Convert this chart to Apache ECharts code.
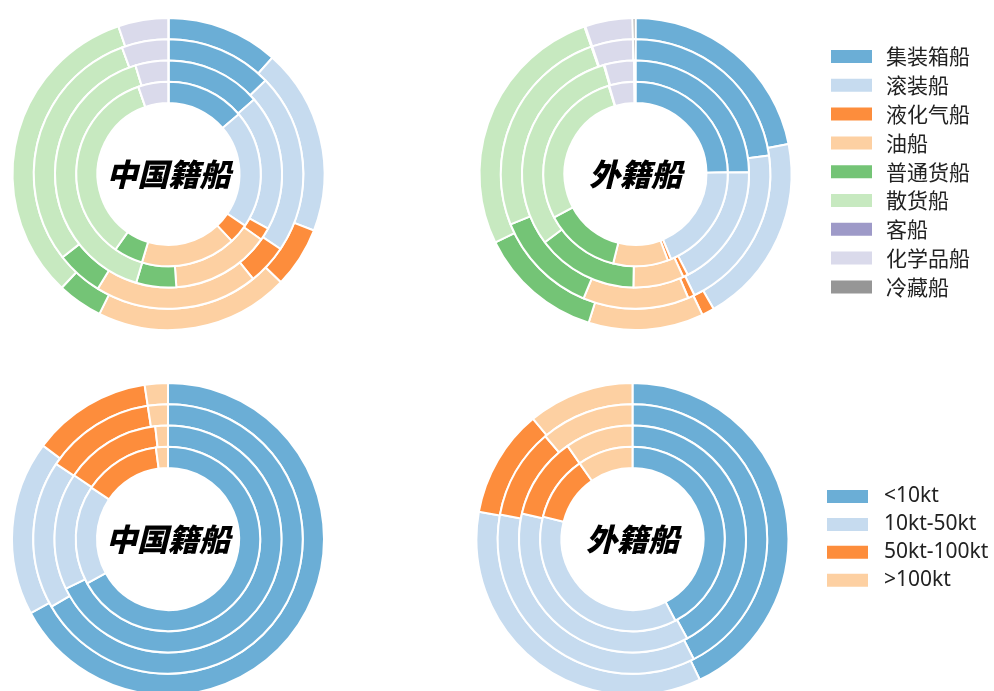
<!DOCTYPE html>
<html>
<head>
<meta charset="utf-8">
<script src="https://cdn.jsdelivr.net/npm/echarts@6/dist/echarts.min.js"></script>
<style>
  html, body { margin: 0; padding: 0; background: #fff; }
  #chart { width: 994px; height: 691px; }
</style>
</head>
<body>
<div id="chart"></div>
<script>
// Pollutant rings, outermost first
const ringNames = ['CO2', 'SOx', 'NOx', 'PM'];

// Ship types (share of emissions, %)
const shipTypes = ['集装箱船', '滚装船', '液化气船', '油船', '普通货船', '散货船', '客船', '化学品船', '冷藏船'];
const cnTypeCO2 = [11.6, 19.3, 6.3, 20.1, 4.7, 32.8, 0, 5.2, 0];
const cnTypeSOx = [12.8, 21.6, 4.8, 19.6, 5.6, 30.0, 0, 5.6, 0];
const cnTypeNOx = [13.6, 19.4, 1.8, 14.1, 5.7, 40.7, 0, 4.7, 0];
const cnTypePM  = [13.8, 20.7, 3.5, 16.7, 5.1, 35.0, 0, 5.3, 0];
const fgTypeCO2 = [21.9, 19.7, 1.3, 11.9, 12.9, 26.9, 0.1, 4.9, 0.3];
const fgTypeSOx = [22.8, 20.0, 0.8, 12.7, 12.6, 25.8, 0.1, 4.9, 0.3];
const fgTypeNOx = [24.7, 17.6, 0.7, 7.2, 14.4, 30.7, 0.1, 4.2, 0.2];
const fgTypePM  = [24.7, 19.0, 0.6, 9.6, 13.3, 28.1, 0.1, 4.4, 0.2];

// Tonnage classes (share of emissions, %)
const tonnageClasses = ['<10kt', '10kt-50kt', '50kt-100kt', '>100kt'];
const cnTonCO2 = [67.2, 18.1, 12.4, 2.4];
const cnTonSOx = [66.7, 17.8, 13.2, 2.4];
const cnTonNOx = [67.8, 16.7, 13.7, 1.8];
const cnTonPM  = [67.1, 17.4, 13.5, 2.1];
const fgTonCO2 = [42.9, 34.9, 11.2, 11.0];
const fgTonSOx = [42.5, 35.4, 10.9, 11.2];
const fgTonNOx = [42.0, 36.6, 11.7, 9.7];
const fgTonPM  = [42.3, 36.6, 11.4, 9.7];

const panelTitles = ['中国籍船', '外籍船', '中国籍船', '外籍船'];

// Colours per category
const typeColors = ['#6baed6', '#c6dbef', '#fd8d3c', '#fdd0a2', '#74c476', '#c7e9c0', '#9e9ac8', '#dadaeb', '#969696'];
const tonColors = ['#6baed6', '#c6dbef', '#fd8d3c', '#fdd0a2'];

// Panel layout: centres and ring radii (px)
const panels = [
  { cx: 168.5, cy: 174, names: shipTypes, colors: typeColors, rings: [cnTypeCO2, cnTypeSOx, cnTypeNOx, cnTypePM] },
  { cx: 635.5, cy: 174, names: shipTypes, colors: typeColors, rings: [fgTypeCO2, fgTypeSOx, fgTypeNOx, fgTypePM] },
  { cx: 168,   cy: 539, names: tonnageClasses, colors: tonColors, rings: [cnTonCO2, cnTonSOx, cnTonNOx, cnTonPM] },
  { cx: 632.5, cy: 539, names: tonnageClasses, colors: tonColors, rings: [fgTonCO2, fgTonSOx, fgTonNOx, fgTonPM] }
];
const innerR = 71, outerR = 156;
const ringW = (outerR - innerR) / ringNames.length;

const series = [];
const graphics = [];
panels.forEach((p, pi) => {
  p.rings.forEach((vals, ri) => {
    const r1 = outerR - ri * ringW;
    const r0 = r1 - ringW;
    series.push({
      type: 'pie',
      name: panelTitles[pi] + ' ' + ringNames[ri],
      center: [p.cx, p.cy],
      radius: [r0, r1],
      startAngle: 90,
      clockwise: true,
      silent: true,
      avoidLabelOverlap: false,
      label: { show: false },
      labelLine: { show: false },
      itemStyle: { borderColor: '#ffffff', borderWidth: 2 },
      data: p.names.map((n, i) => ({ name: n, value: vals[i], itemStyle: { color: p.colors[i] } }))
    });
    graphics.push({
      type: 'text',
      x: p.cx + 7,
      y: p.cy - (r0 + r1) / 2 + 2,
      style: {
        text: ringNames[ri],
        fill: '#2e3440',
        font: '12px "Open Sans", "Noto Sans", sans-serif',
        textAlign: 'left',
        textVerticalAlign: 'middle'
      }
    });
  });
  graphics.push({
    type: 'text',
    x: p.cx,
    y: p.cy,
    style: {
      text: panelTitles[pi],
      fill: '#000',
      font: 'italic 900 31px "Noto Sans CJK SC", sans-serif',
      textAlign: 'center',
      textVerticalAlign: 'middle'
    }
  });
});

const legendBase = {
  orient: 'vertical',
  icon: 'rect',
  itemWidth: 41,
  itemHeight: 13,
  selectedMode: false,
  itemStyle: { borderWidth: 0 },
  textStyle: { fontFamily: '"Noto Sans CJK SC", sans-serif', color: '#222', lineHeight: 20 }
};

const chart = echarts.init(document.getElementById('chart'), null, { renderer: 'canvas' });
chart.setOption({
  animation: false,
  backgroundColor: '#fff',
  legend: [
    Object.assign({}, legendBase, {
      data: shipTypes, left: 826, top: 41, itemGap: 7.8,
      textStyle: Object.assign({}, legendBase.textStyle, { fontSize: 21, padding: [0, 0, 0, 9] })
    }),
    Object.assign({}, legendBase, {
      data: tonnageClasses, left: 822, top: 481, itemGap: 6.9,
      textStyle: Object.assign({}, legendBase.textStyle, { fontSize: 21, padding: [0, 0, 0, 11], fontFamily: '"Noto Sans", sans-serif' })
    })
  ],
  series: series,
  graphic: graphics
});
</script>
</body>
</html>
